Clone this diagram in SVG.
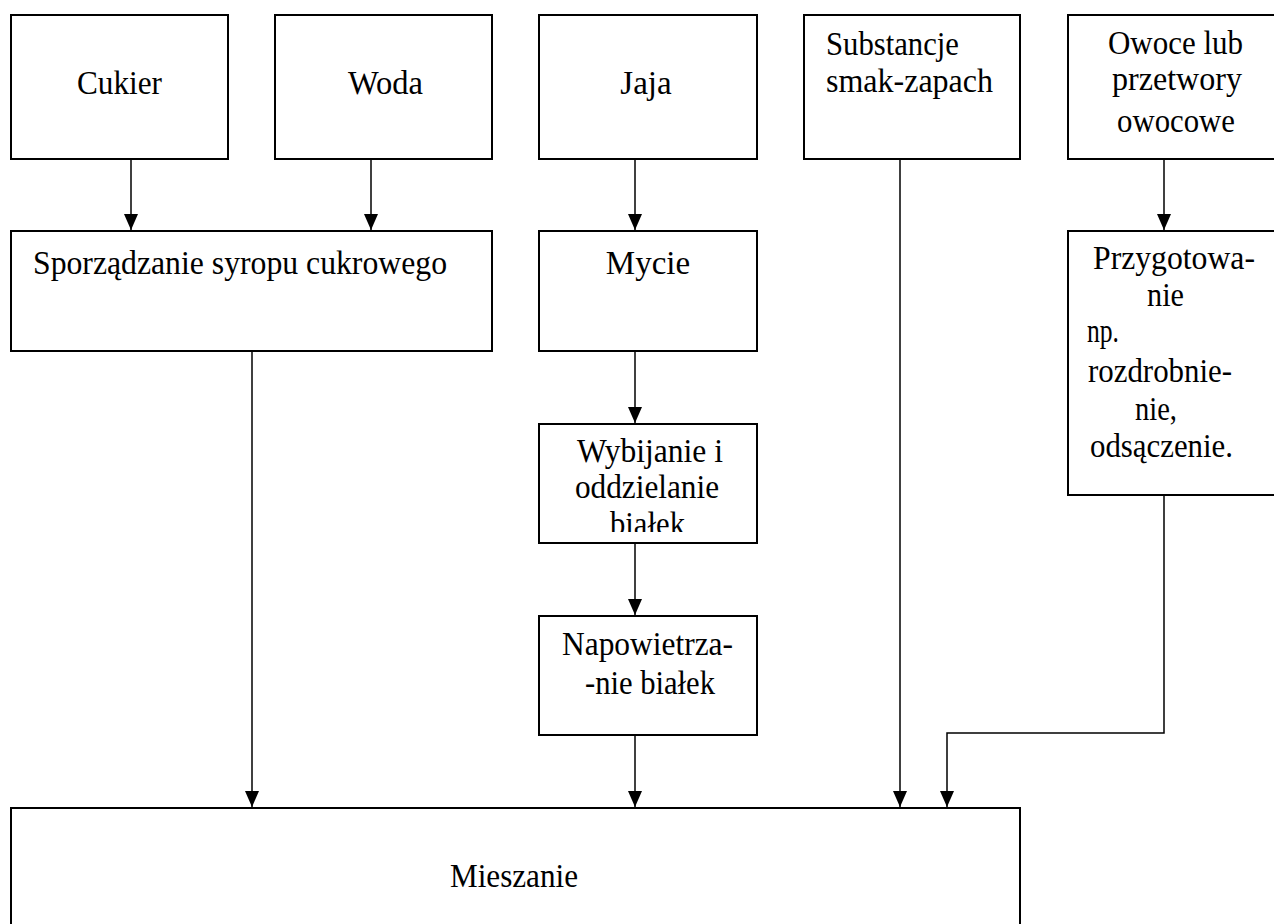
<svg xmlns="http://www.w3.org/2000/svg" width="1274" height="924" viewBox="0 0 1274 924">
  <style>
    .box { fill: #ffffff; stroke: #000000; stroke-width: 2; }
    .lbl { font-family: "Liberation Serif", "Times New Roman", serif; font-size: 33px; fill: #000000; }
    .mid { text-anchor: middle; }
    .wire { fill: none; stroke: #000000; stroke-width: 1.5; }
  </style>
  <defs>
    <marker id="arrow" markerUnits="userSpaceOnUse" markerWidth="16" markerHeight="14" refX="16" refY="7" viewBox="0 0 16 14" orient="auto">
      <path d="M0,0 L16,7 L0,14 Z" fill="#000000"/>
    </marker>
    <clipPath id="clipWybijanie">
      <rect x="540" y="425" width="216" height="107"/>
    </clipPath>
  </defs>

  <rect width="1274" height="924" fill="#ffffff"/>

  <!-- ingredient boxes, top row -->
  <g id="cukier">
    <rect class="box" x="11" y="15" width="217" height="144"/>
    <text class="lbl" x="77" y="94" textLength="85" lengthAdjust="spacingAndGlyphs">Cukier</text>
  </g>
  <g id="woda">
    <rect class="box" x="275" y="15" width="217" height="144"/>
    <text class="lbl" x="348" y="94" textLength="75" lengthAdjust="spacingAndGlyphs">Woda</text>
  </g>
  <g id="jaja">
    <rect class="box" x="539" y="15" width="218" height="144"/>
    <text class="lbl mid" x="646" y="94">Jaja</text>
  </g>
  <g id="substancje">
    <rect class="box" x="804" y="15" width="216" height="144"/>
    <text class="lbl" x="826" y="55" textLength="133" lengthAdjust="spacingAndGlyphs">Substancje</text>
    <text class="lbl" x="826" y="92" textLength="167" lengthAdjust="spacingAndGlyphs">smak-zapach</text>
  </g>
  <g id="owoce">
    <rect class="box" x="1068" y="15" width="216" height="144"/>
    <text class="lbl" x="1108" y="54" textLength="135" lengthAdjust="spacingAndGlyphs">Owoce lub</text>
    <text class="lbl" x="1112" y="90" textLength="130" lengthAdjust="spacingAndGlyphs">przetwory</text>
    <text class="lbl" x="1117" y="132" textLength="118" lengthAdjust="spacingAndGlyphs">owocowe</text>
  </g>

  <!-- processing steps -->
  <g id="syrop">
    <rect class="box" x="11" y="231" width="481" height="120"/>
    <text class="lbl" x="33" y="274" textLength="414" lengthAdjust="spacingAndGlyphs">Sporządzanie syropu cukrowego</text>
  </g>
  <g id="mycie">
    <rect class="box" x="539" y="231" width="218" height="120"/>
    <text class="lbl mid" x="648" y="274">Mycie</text>
  </g>
  <g id="przygotowanie">
    <rect class="box" x="1068" y="231" width="216" height="264"/>
    <text class="lbl" x="1093" y="269" textLength="162" lengthAdjust="spacingAndGlyphs">Przygotowa-</text>
    <text class="lbl" x="1147" y="306" textLength="37" lengthAdjust="spacingAndGlyphs">nie</text>
    <text class="lbl" x="1087" y="342" textLength="32" lengthAdjust="spacingAndGlyphs">np.</text>
    <text class="lbl" x="1088" y="382" textLength="144" lengthAdjust="spacingAndGlyphs">rozdrobnie-</text>
    <text class="lbl" x="1135" y="420" textLength="42" lengthAdjust="spacingAndGlyphs">nie,</text>
    <text class="lbl" x="1090" y="457" textLength="143" lengthAdjust="spacingAndGlyphs">odsączenie.</text>
  </g>
  <g id="wybijanie">
    <rect class="box" x="539" y="424" width="218" height="119"/>
    <g clip-path="url(#clipWybijanie)">
      <text class="lbl" x="577" y="462" textLength="146" lengthAdjust="spacingAndGlyphs">Wybijanie i</text>
      <text class="lbl" x="575" y="498" textLength="144" lengthAdjust="spacingAndGlyphs">oddzielanie</text>
      <text class="lbl" x="610" y="535" textLength="75" lengthAdjust="spacingAndGlyphs">białek</text>
    </g>
  </g>
  <g id="napowietrzanie">
    <rect class="box" x="539" y="616" width="218" height="119"/>
    <text class="lbl" x="562" y="655" textLength="171" lengthAdjust="spacingAndGlyphs">Napowietrza-</text>
    <text class="lbl" x="585" y="694" textLength="130" lengthAdjust="spacingAndGlyphs">-nie białek</text>
  </g>
  <g id="mieszanie">
    <rect class="box" x="11" y="808" width="1009" height="140"/>
    <text class="lbl" x="450" y="887" textLength="128" lengthAdjust="spacingAndGlyphs">Mieszanie</text>
  </g>

  <!-- flow connectors -->
  <g id="connectors">
    <line class="wire" x1="131" y1="159" x2="131" y2="230" marker-end="url(#arrow)"/>
    <line class="wire" x1="371" y1="159" x2="371" y2="230" marker-end="url(#arrow)"/>
    <line class="wire" x1="635" y1="159" x2="635" y2="230" marker-end="url(#arrow)"/>
    <line class="wire" x1="1164" y1="159" x2="1164" y2="230" marker-end="url(#arrow)"/>
    <line class="wire" x1="635" y1="351" x2="635" y2="423" marker-end="url(#arrow)"/>
    <line class="wire" x1="635" y1="543" x2="635" y2="615" marker-end="url(#arrow)"/>
    <line class="wire" x1="252" y1="351" x2="252" y2="807" marker-end="url(#arrow)"/>
    <line class="wire" x1="635" y1="735" x2="635" y2="807" marker-end="url(#arrow)"/>
    <line class="wire" x1="900" y1="159" x2="900" y2="807" marker-end="url(#arrow)"/>
    <polyline class="wire" points="1164,495 1164,733 947,733 947,807" marker-end="url(#arrow)"/>
  </g>
</svg>
